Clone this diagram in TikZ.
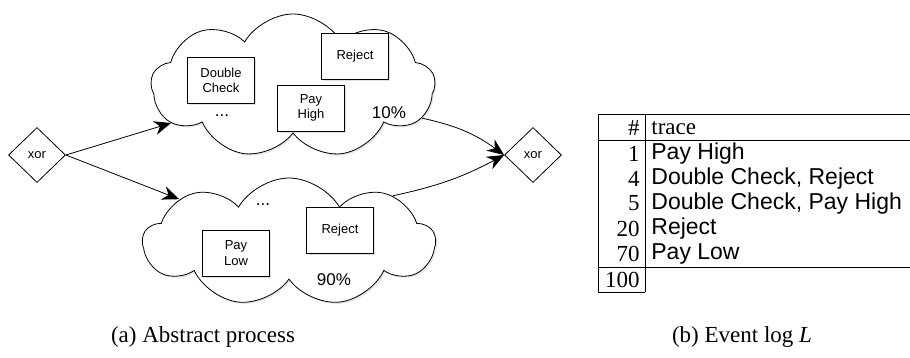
\documentclass[tikz,border=0pt]{standalone}
\usepackage{fontspec}
\setmainfont{Liberation Serif}
\newfontfamily\arial{Liberation Sans}
\usetikzlibrary{shapes.geometric,shapes.symbols,arrows.meta,shadows}
\tikzset{
  task/.style={draw,fill=white,align=center,inner sep=1pt,
    font=\arial\fontsize{6.5}{7.6}\selectfont,
    minimum width=33.5pt,minimum height=23pt,
    drop shadow={opacity=.25,shadow xshift=.8pt,shadow yshift=-.8pt}},
  gate/.style={draw,diamond,inner sep=0pt,fill=white,
    font=\arial\fontsize{6.5}{7.6}\selectfont,
    minimum width=28.5pt,minimum height=27.5pt},
  blob/.style={draw,cloud,cloud puffs=9,cloud puff arc=120,cloud ignores aspect,
    fill=white,drop shadow={opacity=.2,shadow xshift=.8pt,shadow yshift=-.8pt}},
  flow/.style={-{Stealth[length=8.5pt,width=7pt]}},
  share/.style={font=\arial\fontsize{8.5}{10}\selectfont},
  num/.style={anchor=east,inner sep=0pt,font=\fontsize{11.5}{13}\selectfont},
  trace/.style={anchor=west,inner sep=0pt,font=\arial\fontsize{11.5}{13}\selectfont},
  rule/.style={line width=.5pt},
}
\begin{document}
\begin{tikzpicture}[x=0.5pt,y=-0.5pt]
\path[use as bounding box] (0,0) rectangle (910,358);
% abstract process
\node[blob,minimum width=142pt,minimum height=72pt] (upper) at (293,86) {};
\node[blob,minimum width=146pt,minimum height=64pt] (lower) at (289,242) {};
\node[task] (dcheck) at (221,80) {Double\\Check};
\node[task] (rejA) at (355,56) {Reject};
\node[task] (payhigh) at (311,108) {Pay\\High};
\node[share] (dotsA) at (222,116) {...};
\node[share] (pctA) at (389,113) {10\%};
\node[task] (rejB) at (340,230) {Reject};
\node[task] (paylow) at (236,253) {Pay\\Low};
\node[share] (dotsB) at (263,205) {...};
\node[share] (pctB) at (334,280) {90\%};
\node[gate] (xin) at (37,155) {xor};
\node[gate] (xout) at (533,155) {xor};
\draw[flow] (xin.east) -- (upper);
\draw[flow] (xin.east) -- (lower);
\draw[flow] (upper.-14) to[bend left=12] (xout.west);
\draw[flow] (lower.24) to[bend right=8] (xout.west);
\node[font=\fontsize{11.5}{13}\selectfont] (capA) at (203,337) {(a) Abstract process};
% event log
\draw[rule] (598,115) -- (910,115);
\draw[rule] (598,141) -- (910,141);
\draw[rule] (598,267) -- (910,267);
\draw[rule] (598,115) -- (598,292) -- (645,292);
\draw[rule] (645,115) -- (645,292);
\node[num] (hnum) at (640,128) {\#};
\node[trace,font=\fontsize{11.5}{13}\selectfont] (htrace) at (651,128) {trace};
\node[num] (n1) at (640,153.5) {1};
\node[trace] (t1) at (651,153.5) {Pay High};
\node[num] (n4) at (640,178.5) {4};
\node[trace] (t4) at (651,178.5) {Double Check, Reject};
\node[num] (n5) at (640,203.5) {5};
\node[trace] (t5) at (651,203.5) {Double Check, Pay High};
\node[num] (n20) at (640,228.5) {20};
\node[trace] (t20) at (651,228.5) {Reject};
\node[num] (n70) at (640,253.5) {70};
\node[trace] (t70) at (651,253.5) {Pay Low};
\node[num] (ntot) at (640,279.5) {100};
\node[font=\fontsize{11.5}{13}\selectfont] (capB) at (742,337) {(b) Event log \textit{L}};
\end{tikzpicture}
\end{document}
